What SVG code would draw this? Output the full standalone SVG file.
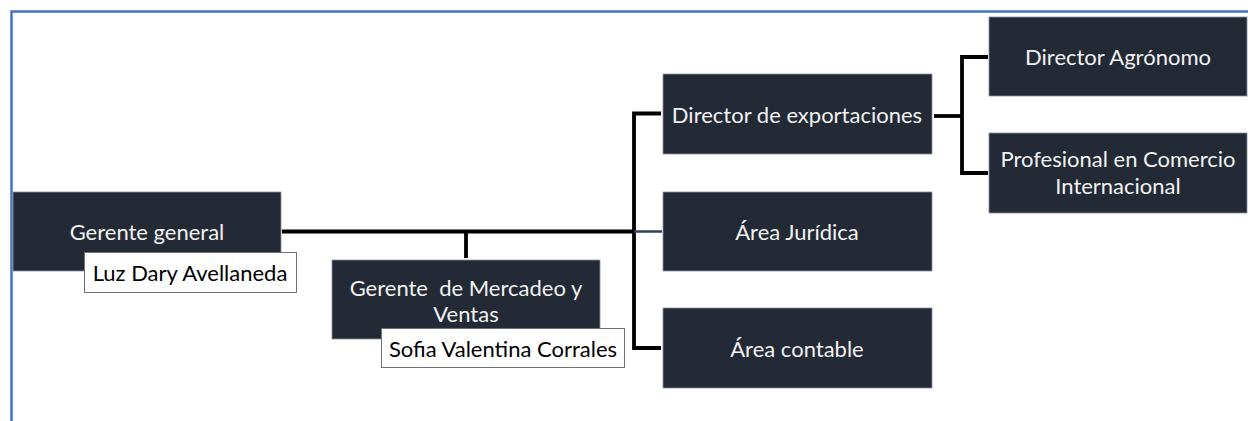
<svg xmlns="http://www.w3.org/2000/svg" width="1248" height="421" viewBox="0 0 1248 421">
<style>
.box{fill:#232a36;stroke:#8a9099;stroke-width:0.8}
.t{font-family:Lato,"Liberation Sans",sans-serif;font-size:22px;fill:#f2f2f2;text-anchor:middle;dominant-baseline:central;white-space:pre}
.lab{fill:#ffffff;stroke:#6f7378;stroke-width:1}
.lt{font-family:Lato,"Liberation Sans",sans-serif;font-size:22px;fill:#000000;text-anchor:middle;dominant-baseline:central}
.c{fill:none;stroke:#000000;stroke-width:3.8}
</style>
<rect x="0" y="0" width="1248" height="421" fill="#ffffff"/>
<path d="M11.5 421 V11.5 H1248" fill="none" stroke="#4472c4" stroke-width="2.5"/>
<g id="connectors">
<path class="c" d="M282 231.5 H634"/>
<path class="c" d="M466 231.5 V258"/>
<path class="c" d="M661 113.5 H634 V348 H661"/>
<path d="M634 231.5 H662" fill="none" stroke="#333f50" stroke-width="2.5"/>
<path class="c" d="M934 116 H962"/>
<path class="c" d="M988 57 H962 V173 H988"/>
</g>
<g id="gerente-general">
<rect class="box" x="13" y="192" width="268" height="79"/>
<text class="t" x="147" y="231">Gerente general</text>
<rect class="lab" x="84.5" y="252.5" width="212" height="40"/>
<text class="lt" x="190" y="272">Luz Dary Avellaneda</text>
</g>
<g id="gerente-mercadeo">
<rect class="box" x="332" y="260" width="268" height="79"/>
<text class="t" x="466" y="287" xml:space="preserve">Gerente  de Mercadeo y</text>
<text class="t" x="466" y="313">Ventas</text>
<rect class="lab" x="381.5" y="328.5" width="243" height="39"/>
<text class="lt" x="503" y="348">Sofia Valentina Corrales</text>
</g>
<g id="director-exportaciones">
<rect class="box" x="663" y="74" width="269" height="80"/>
<text class="t" x="797" y="114">Director de exportaciones</text>
</g>
<g id="area-juridica">
<rect class="box" x="663" y="192" width="269" height="79"/>
<text class="t" x="797" y="231">Área Jurídica</text>
</g>
<g id="area-contable">
<rect class="box" x="663" y="308" width="269" height="80"/>
<text class="t" x="797" y="348">Área contable</text>
</g>
<g id="director-agronomo">
<rect class="box" x="989" y="17" width="258" height="79"/>
<text class="t" x="1118" y="56">Director Agrónomo</text>
</g>
<g id="profesional-comercio">
<rect class="box" x="989" y="133" width="258" height="80"/>
<text class="t" x="1118" y="158">Profesional en Comercio</text>
<text class="t" x="1118" y="185">Internacional</text>
</g>
</svg>
